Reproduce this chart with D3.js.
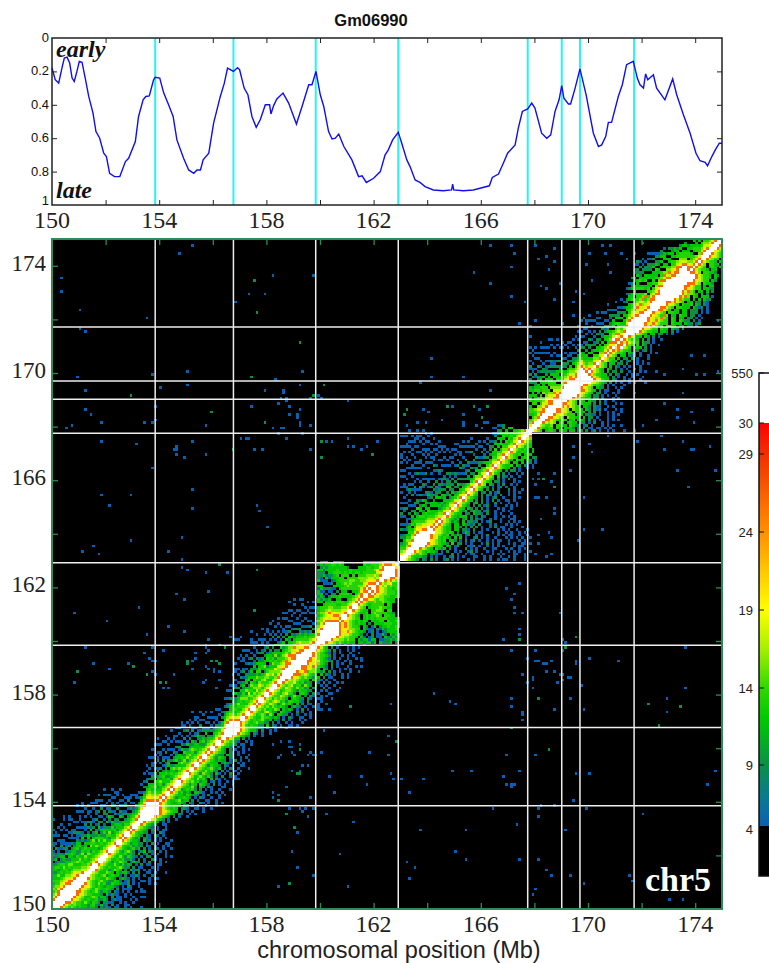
<!DOCTYPE html>
<html><head><meta charset="utf-8">
<script src="https://cdn.jsdelivr.net/npm/d3@7/dist/d3.min.js"></script>
<style>html,body{margin:0;padding:0;background:#fff;overflow:hidden}svg{display:block}</style>
</head><body><svg id="c" width="769" height="963"></svg>
<script>
const chartTitle="Gm06990", regionLabel="chr5", xAxisLabel="chromosomal position (Mb)";
const boundaries=[153.85,156.77,159.84,162.92,167.75,169.02,169.7,171.72];
const positionTicks=[150,154,158,162,166,170,174];
const minorTicks=d3.range(150,176,2);
const timingTicks=[0,0.2,0.4,0.6,0.8,1];
const timingTickLabels=["0","0.2","0.4","0.6","0.8","1"];
const colorbarTicks=[550,30,29,24,19,14,9,4];
const timingMb=[150,150.12,150.25,150.37,150.46,150.56,150.66,150.75,150.83,150.93,151.02,151.12,151.24,151.37,151.53,151.64,151.78,151.93,152.03,152.15,152.33,152.53,152.74,152.86,153.11,153.23,153.4,153.5,153.63,153.79,153.85,154.02,154.17,154.35,154.52,154.66,154.91,155.1,155.29,155.41,155.54,155.64,155.85,156.03,156.28,156.43,156.55,156.77,156.92,157,157.17,157.31,157.46,157.62,157.77,157.96,158.12,158.17,158.27,158.39,158.62,158.83,159.12,159.33,159.58,159.7,159.85,160.01,160.14,160.32,160.45,160.57,160.7,160.89,161.19,161.44,161.57,161.73,162,162.25,162.43,162.55,162.71,162.92,163.05,163.24,163.36,163.55,163.73,163.92,164.23,164.6,164.91,164.95,164.99,165.35,165.72,165.97,166.32,166.43,166.66,166.84,167,167.28,167.4,167.55,167.75,167.9,168.02,168.27,168.46,168.61,168.77,168.92,169.02,169.1,169.27,169.35,169.52,169.7,169.93,170.2,170.39,170.51,170.66,170.76,170.88,171.13,171.28,171.44,171.69,171.84,171.94,172.07,172.15,172.23,172.44,172.56,172.87,173.16,173.31,173.56,173.81,174.03,174.18,174.37,174.46,174.62,174.75,174.9,175];
const timingValue=[.18,.25,.27,.18,.12,.115,.15,.24,.26,.2,.14,.145,.24,.35,.45,.56,.6,.69,.71,.81,.83,.83,.74,.72,.62,.47,.37,.35,.347,.25,.235,.24,.33,.4,.47,.61,.72,.79,.81,.79,.79,.73,.69,.51,.35,.27,.18,.2,.178,.19,.3,.34,.47,.535,.49,.4,.4,.455,.405,.365,.33,.39,.515,.41,.28,.28,.2,.34,.41,.56,.605,.6,.575,.65,.73,.83,.825,.865,.84,.8,.7,.67,.61,.565,.63,.73,.77,.85,.865,.89,.91,.915,.91,.875,.91,.915,.91,.9,.885,.835,.815,.75,.69,.64,.54,.44,.425,.39,.42,.57,.6,.58,.44,.37,.285,.36,.395,.395,.3,.185,.34,.57,.65,.64,.59,.505,.505,.35,.28,.16,.14,.24,.28,.3,.215,.25,.22,.3,.37,.245,.34,.46,.57,.69,.735,.745,.765,.71,.67,.63,.63];
/* contact count for each character code of the rows below */
const contactLevels=[0,5,9,12,13.5,15.5,17.5,20,26,100];
/* each row: bin i (0.1 Mb), characters = bins i, i+1, i+2 ... (matrix is mirrored) */
const contactRows=[
"99986545434332332.2121.11..1.1...1","99987545443323421311.2.1..11","9998865443532432.2211..1.1..1","999987654343342232.1211...1.1","99998765334542331.2.11.1..1..11","99998765443332.31211..1.1","9998865434532332.21.1.1..1.11","9998765435433432.2.1111...1","99987754343233321.1.21..1","99986543534224332112.1.1...1.1",
"9996543453322431.12.1..11.1","9986544335432.2321.1.1...1.11","99654345234331.2.1121.1..1","9965433543.32331.2.2..11.1...1","998543423543.2.3122.1.1..1","99754343345322.2.11...1.1","98754335324232.1.2.11..11","99654243543.1322.1.2...1.1","9965334342231.2.1..21.1","9975435324321.1.22.1...1.1",
"98654334232.3.12.1.1..1","9975324532.123.21..1.1","99654323423.2.1.21.1..1","98643342322.21.1..1.1","9965423322.1.2.1..11","98754332.312.1.1...1","9865323.221.1.1.1","9975432.21.21.1","98643322.1..21..","9865432.2.1.11",
"99654321.1..1","99864322..11","99875432.1.1","999975432.1..1","9999875432.2.1..1","99999865432.21..1.1","99998765433.2.1.1...1","9998654343.221..11.1..1","9986543433.22.1.1..1...1","98754323432.21..21.1..1.1",
"98643345233.2.1..11..1","98754233432.1.21..1..1","9965433243221.1.2...1.1","987534232.3321..1.1.1","9865234342.2.1.1..1...1","997543352.32.21...11","99654243.4321.2.1.1..1","98754534233.12.1..1.1","9965435342.3.21.1...11","99753453242.1.2..1.1",
"9865425432.31.1.2..1","99654353422.2.1..1.1","98754345323.1.21.1...1","9965424332.21.1..11","98754333.2321..1.1","9865432322.1.2.1..1","997532432.21..1.1","9865322.321.1...1","9875432.21.1.1","996532.2.1..1.1",
"98643321.1.1","99754322.11..1","98654321..1.1","9986533.2.1","9998654322.1..1","999986543.21.1..1","99998654332.2..1.1","999875433221.1..1...1","99864343322.3.21.1..11.1","987543453322.2.1..1.1...1",
"996534345323.21.2.1...1.1","98654335443232.1.21..11..1","99753454253.3322.1.1..1.1","98654356432.4321..2.1..1","99654534354.3232.1.2.1...11","9875453543432.2321.1..1.1","98654654235342.3.2.11..1..1","99754565342443321.2..1.1","9865354543.34322.21.1.1...1","99654465423533.2.21..1.1",
"98754356442.3431.2.1...11","9965345543243322.1.1.1..","99754654353423.21..2.1...1","98654563442532.3.1.1..1","9986556434232.21.2.1..1.1","99865654433.4321.1..1","99987654543243.2.11...1.1","999888565432.3.21.1..1.1","99986784553323.2.1.1...1..1","99998876543.32.1..1.1.1",
"9998876854321.2.1...1..1.1","999987685432.2.1.1..1","9998875643322.1..1.1...1","99987654321.1.1..1..1.1","9998654432.1..1.1.1","998754321.1.1...1..1","99865432.2.1..1.1","998643.2.1...1.1.1","99875432.1.1..1...1","99987654543433.3323313.32223.2",
"9999876554544.3233133.11223232","9999987655443.31.12.11.321323","99999876654432.1.2.1131.3233","99998678654332.12.1.123333","99987765544.3211.21323334","9987875443.32.13.23343343","98786543433.2.3333444333","98765434343.33344.43343","9976544.34343444433332","986543.3434454.4433",
"99754334.454444332","9865433.44554.44","99754.344454433","98654344444.43","98654454454433","9887654554333","99887655443343","9898765544433","989876544433","99876544343",
"9875645443","986567443","99878654","9998875","999986","99987","9986","976","98","9",
"9975432.21.2.1..12.1.1...1.1...1.1..1.11..1...1","996433322.1.1..1.12.1.1...11..1.1...1..1.1...1","99754543.22111...2.1..1.11..1...1.1.1...11..1..","99875434332.1.2..1.1..12.1...1.1..1..1.1.1...1","99986543.4323.2.1...2.1.1..1..11...1.1..1.1","99998654343.32.12...112.1..1.1.1.1...1.11.","999987654332.4.22.1.1...1.2.1.1...1.1..11.1..1","9999765434.332.1.2.12.1..1.1.11..1...1.1","99987643432.3.3.1..12.1.1..1...1.1.1.1..1","998765434.3232.12..1.1.2...1.1.11..1..1",
"9997654343.2.132.1.11...1.1..1.1..1.1","98765433.33.221.2..1.1...1.1.1..1...1","9875433.332.2.2.2.1..1.2.11..1...1","986543.33.32212.2...1.1...1.1.1.","98654232.3.2212.1.12...1..1.1.1","9754323.23.2.212..1.1.1...11","986432333.2.1.21...1..1.1.1","975433.22.3221.2..1.1...1","9865323.2322.12..1..1.1","97543.32.2.2.1...1.1..1",
"986432.2.2.12..1...1.1.1.","97543.23.2.1..2.1..1..1","98643.2.2.1.2.1..11.1","975432.2.1.12..1...1.1","98643.2.21.1.2..1.1","9754.22.2.12...1.1.1","98643.2.2.1...2.1..1","975432.1.12.1..1","9865.32.1.2..1.1","97543.22.1...1.1",
"98643.2.1.2.1","9754.3.21.1..1","98643.2.1..1.1","97543.2.22.1","9865433.2.1..1.1","9754334.32.21.1","98654.33.3.22.1","97543.433.32.1","986543.343.22","975434.343",
"98643433.3","9754343.3","9865343","976543","98754","9975","998","99","99754.3443.433.33.22.2.12.1..1.1...1...1","99854344.43.3332.2.2.11.1..1.1",
"9965445.4433.4322.12.1...1.1.1","9986565.44.3433.22.1.2..1.1","9988654454.34.332.2.1.1..1.1.1","99887654.54433.3.22.1...1.1","99986765444.33.2211.1..1.1","999887654.4433.2.2.1..1.1..1","9988765.5443.32.212.1...1.1","9998786544.332.211..1.1","99887654.4333.2.2.1...1.1","9998654.43.322.2.1..1",
"99998654433.22.1...1.1","9999986543.22.1.1..1","9999976543.22.1..1.1","9999886543.2.11...1","99987654.322.1..1.1","99988654432.1.1...1","99999765432.2.1.1..1.1","99999876433.21..1.1...1","9998654332.2.1.1..1...1","98754433.2.21..1.1.1",
"986543.3.22.2..1...1.1","97543.32.2.1.1..1.1","98654.3.21.1.1...1","9754.33.22.2...1.1.1","9865433.2.12..1.1","97544.3.22.2.1...1","98654.33.212.1..1","9875443.322.1...1.1","98785443.22.12.1","9789654.433.2.1",
"9889854.4.32.1..1","98786544.322.1","9875443.3.2.1..1","9986433.32.2.1","99986543.33.22.1.1","99998654433.332.2.1","9999876544.433.322.2","99998786544.4433.22.11.1","999876865444.4333.322.12","99987686544.43.4322.2.1",
"9987656854.43.33.22.1.1","998765485.33.433.22.1","9987754.4433.33.222.1.1","99988654.33.33.222.1.1","99988654.44333.32.2.1","999987654.4334.32.21","9998878654.33.22.21","99999868544.3.3.322","9999998685.43.333.1","999999865543.3.2",
"9999986854.33.3.2","99999876544.3322","9999887544.3.33","999988865.4332","99999876544.32","99999865443.3","9999865443.32","98875.44332","9865443.33","98654.343.3",
"9865.4433.3","9865443.3","9986544","9987654","998654","99765","9986","998","99","9"];
/* isolated low-count contacts, [x bin, y bin] */
const sparseBlue=[[142,80],[148,77],[150,76],[171,78],[171,75],[175,73],[175,72],[175,70],[187,74],[193,78],[198,74],[229,78],[229,73],[126,76],[103,74],[99,78],[106,81],[125,64],[101,66],[118,58],[125,57],[100,58],[169,57],[180,57],[149,51],[156,51],[174,51],[103,49],[115,49],[126,50],[127,48],[130,48],[138,48],[117,46],[168,49],[169,46],[171,46],[172,46],[171,45],[195,50],[200,50],[247,51],[244,46],[105,43],[133,43],[194,40],[164,37],[181,37],[182,38],[187,38],[199,37],[181,34],[220,35],[102,35],[112,32],[173,31],[137,29],[154,29],[191,29],[107,20],[150,21],[154,18],[174,18],[181,18],[132,17],[135,15],[184,14],[186,12],[193,12],[215,12],[216,10],[133,11],[97,12],[198,9],[110,8],[180,7],[179,5],[230,3],[235,3],[223,10],[89,21],[91,15],[84,8],[87,45],[84,42],[82,43],[82,41],[96,41],[95,34],[91,28],[88,37],[92,37],[93,36],[94,37],[97,37],[82,61],[85,62],[88,62],[92,61],[88,60],[89,60],[89,58],[90,57],[85,57],[84,56],[95,57],[96,58],[97,57],[98,57],[89,51],[92,51],[93,53],[95,53],
[179,160],[181,162],[181,160],[187,162],[186,159],[193,163],[180,158],[180,153],[181,153],[184,153],[187,149],[187,147],[182,145],[198,153],[233,163],[247,163],[237,157],[198,141],[205,141],[196,137],[181,139],[185,140],[186,138],[180,132],[184,131],[186,132],[174,121],[169,119],[172,117],[171,115],[172,112],[172,110],[175,110],[189,110],[174,104],[174,102],[168,100],[190,100],[191,99],[190,96],[171,96],[180,96],[236,97],[177,93],[180,92],[181,92],[183,91],[184,91],[186,92],[195,92],[195,91],[200,93],[211,92],[184,88],[187,88],[189,87],[190,87],[175,87],[179,86],[179,85],[192,86],[193,86],[190,85],[188,84],[177,84],[197,83],[179,82],[236,82],
[52,247],[47,244],[3,235],[3,230],[10,223],[35,220],[10,216],[12,215],[82,236],[97,236],[73,229],[79,229],[68,226],[157,237],[163,247],[163,233],[141,205],[141,198],[153,198],[137,196],[163,193],[9,198],[37,199],[50,200],[50,195],[40,194],[12,193],[83,197],[93,200],[92,195],[79,193],[86,193],[86,192],[85,190],[87,190],[96,190],[99,191],[100,190],[84,188],[87,189],[74,187],[88,187],[92,186],[12,186],[14,184],[38,187],[88,184],[91,184],[91,183],[110,189],[38,182],[37,181],[34,181],[18,181],[7,180],[5,179],[57,180],[82,179],[85,179],[86,179],[92,181],[92,180],[96,180],[84,177],[93,177],[98,177],[18,174],[31,173],[52,174],[70,175],[72,175],[73,175],[87,175],[102,174],[104,174],[110,175],[110,172],[112,172],[115,171],[117,172],[121,174],[96,171],[75,171],[78,171],[46,172],[46,171],[45,171],[46,169],[49,168],[57,169],[37,164],[138,186],[140,185],[149,187],[159,186],[153,184],[139,181],[145,182],[153,181],[153,180],[161,181],[162,181],[132,180],[158,180],[160,179],
[18,154],[29,154],[21,150],[52,156],[52,149],[76,150],[77,148],[80,142],[29,137],[48,138],[15,135],[11,133],[17,132],[43,133],[48,130],[48,127],[50,126],[57,125],[65,125],[58,118],[46,117],[49,115],[8,110],[32,112],[20,107],[81,106],[43,105],[49,103],[35,102],[74,103],[70,101],[66,101],[68,100],[69,100],[58,100],[78,99],[12,97],[37,97],[41,96],[34,95],[57,98],[57,97],[57,95],[58,96],[53,95],[36,93],[37,92],[38,92],[15,91],[28,91],[52,92],[53,93],[57,90],[58,89],[52,89],[60,89],[60,88],[62,88],[21,89],[37,88],[38,87],[45,87],[8,84],[41,82],[43,82],[57,85],[56,84],[61,82],[62,85],
[171,247],[172,244],[171,239],[176,226],[171,228],[174,218],[180,247],[187,246],[184,243],[181,242],[187,241],[185,238],[184,231],[182,232],[189,233],[187,227],[195,230],[198,229],[200,244],[206,244],[201,234],[199,240],[208,237],[207,240],[194,226],[194,221],[180,219],[190,218],[199,219],[201,219],[205,247],[208,247],[212,244],[214,242],[220,248],[217,244],[238,171],[239,171],[245,172],[235,174],[228,171],[227,176],[218,174],[235,192],[233,186],[238,185],[246,186],[239,181],[225,182],[233,183],[228,188],[220,180],[243,199],[248,200],[240,199],[235,201],[228,199],[225,200],[243,206],[238,206],[248,219],[241,224],[243,225],[221,196],[217,192],[207,183],[211,184],[204,179],[200,173],[201,170],[194,172],[194,168],[207,176],[212,180]];
const sparseTeal=[[181,78],[222,76],[234,75],[226,68],[171,67],[111,75],[128,62],[185,59],[88,9],[84,40],[87,35],[90,30],[92,59],[91,50],[92,50],[183,160],[187,157],[174,100],[195,101],[191,97],[75,234],[76,222],[92,211],[29,191],[74,198],[101,195],[97,191],[59,185],[79,181],[100,174],[119,169],[100,168],[67,171],[132,186],[147,187],[157,187],[162,187],[131,184],[160,183],[62,128],[76,126],[75,111],[64,97],[62,98],[30,90],[50,92],[50,91],[59,92],[61,92],[62,91],[9,88],[35,87],[40,84],[42,84]];
/* colour bar: value -> colour */
const colorValues=[30,29,24,19,16.5,14,12,9,6.5,5];
const colorStops=["#ff0000","#f03000","#ff9000","#ffff00","#a4f000","#30d800","#00c800","#0a9048","#0a7a90","#0a60b0"];
const barTickPositionValues=[4,9,14,19,24,29,30,550];

const svg=d3.select("#c");
const sans='"Liberation Sans",Arial,sans-serif', serif='"Liberation Serif","Times New Roman",serif';
const x=d3.scaleLinear([150,175],[52,722]);
const yHeat=d3.scaleLinear([150,175],[909,239]);
const yTiming=d3.scaleLinear([0,1],[38,205]);
const barY=d3.scaleLinear(barTickPositionValues,[829,765,688,610,532,454,423,373]);
const colorOf=d3.scaleLinear(colorValues,colorStops).clamp(true);
const cellColor=v=>v<=4?"#000":(v>30?"#fff":colorOf(v));
const binMb=b=>150+b*0.1;

/* ---- timing panel ---- */
const timingPanel=svg.append("g");
timingPanel.append("rect").attr("x",52).attr("y",38).attr("width",670).attr("height",167).attr("fill","#fff");
timingPanel.selectAll(".bl").data(boundaries).join("line").attr("x1",d=>x(d)).attr("x2",d=>x(d)).attr("y1",38).attr("y2",205)
  .attr("stroke","#24f4f4").attr("stroke-width",2);
timingPanel.append("path").attr("d",d3.line().x(d=>x(d[0])).y(d=>yTiming(d[1]))(timingMb.map((m,i)=>[m,timingValue[i]])))
  .attr("fill","none").attr("stroke","#1010e8").attr("stroke-width",1.4);
function ticks(parent,yScale,xVals,yVals,col,len,w){
  const [yb,yt]=[yScale.range()[0],yScale.range()[1]];
  const bottom=Math.max(yb,yt),topY=Math.min(yb,yt);
  const mk=(axis,tr)=>{const g=parent.append("g").attr("transform",tr).call(axis);g.select(".domain").remove();g.selectAll("line").attr("stroke",col).attr("stroke-width",w);g.selectAll("text").remove();};
  mk(d3.axisBottom(x).tickValues(xVals).tickSize(-len),`translate(0,${bottom})`);
  mk(d3.axisTop(x).tickValues(xVals).tickSize(-len),`translate(0,${topY})`);
  mk(d3.axisLeft(yScale).tickValues(yVals).tickSize(-len),`translate(52,0)`);
  mk(d3.axisRight(yScale).tickValues(yVals).tickSize(-len),`translate(722,0)`);
}
ticks(timingPanel,yTiming,minorTicks.filter(d=>d>150&&d<175),timingTicks.slice(1,-1),"#222",5,1);
timingPanel.append("rect").attr("x",52).attr("y",38).attr("width",670).attr("height",167).attr("fill","none").attr("stroke","#222").attr("stroke-width",1.5);
timingPanel.selectAll(".tl").data(timingTicks).join("text").attr("x",49).attr("y",(d,i)=>yTiming(d)+(i==5?0:4)).attr("text-anchor","end")
  .attr("font-family",sans).attr("font-size",13).attr("fill","#111").text((d,i)=>timingTickLabels[i]);
svg.append("text").attr("x",371).attr("y",26).attr("text-anchor","middle").attr("font-family",sans).attr("font-weight","bold").attr("font-size",16.5).attr("fill","#111").text(chartTitle);
const tf=(t,xp,yp)=>svg.append("text").attr("x",xp).attr("y",yp).attr("font-family",serif).attr("font-weight","bold").attr("font-style","italic").attr("font-size",24).attr("fill","#111").text(t);
tf("early",56,57);tf("late",56,198);
svg.selectAll(".xt").data(positionTicks).join("text").attr("x",d=>x(d)).attr("y",228).attr("text-anchor","middle").attr("font-family",serif).attr("font-size",24).attr("fill","#222").text(d=>d);

/* ---- contact map ---- */
const blur=svg.append("defs").append("filter").attr("id","soft").attr("filterUnits","userSpaceOnUse").attr("x",52).attr("y",239).attr("width",670).attr("height",670).attr("color-interpolation-filters","sRGB");
blur.append("feGaussianBlur").attr("stdDeviation",0.6);
const heat=svg.append("g");
heat.append("rect").attr("x",x(150)).attr("y",yHeat(175)).attr("width",x(175)-x(150)).attr("height",yHeat(150)-yHeat(175)).attr("fill","#000");
const cells=[];
contactRows.forEach((row,i)=>{for(let k=0;k<row.length;k++){const c=row[k];if(c==="."||i+k>=250)continue;
  const v=contactLevels[+c];cells.push([i+k,i,v]);if(k>0)cells.push([i,i+k,v]);}});
sparseBlue.forEach(p=>cells.push([p[0],p[1],contactLevels[1]]));
sparseTeal.forEach(p=>cells.push([p[0],p[1],contactLevels[2]]));
cells.sort((a,b)=>a[2]-b[2]);
const cw=x(binMb(1))-x(150), ch=yHeat(150)-yHeat(binMb(1));
const cellLayer=heat.append("g").attr("filter","url(#soft)");
cellLayer.append("rect").attr("x",52).attr("y",239).attr("width",670).attr("height",670).attr("fill","#000");
cellLayer.selectAll(".cell").data(cells).join("rect").attr("x",d=>x(binMb(d[0]))).attr("y",d=>yHeat(binMb(d[1]+1)))
  .attr("width",cw).attr("height",ch).attr("fill",d=>cellColor(d[2])).attr("shape-rendering","crispEdges");
heat.selectAll(".v").data(boundaries).join("line").attr("x1",d=>x(d)).attr("x2",d=>x(d)).attr("y1",239).attr("y2",909).attr("stroke","#eee").attr("stroke-width",1.5);
heat.selectAll(".h").data(boundaries).join("line").attr("y1",d=>yHeat(d)).attr("y2",d=>yHeat(d)).attr("x1",52).attr("x2",722).attr("stroke","#eee").attr("stroke-width",1.5);
ticks(heat,yHeat,minorTicks.filter(d=>d>150&&d<175),minorTicks.filter(d=>d>150&&d<175),"#2e8b57",6,1.3);
heat.append("rect").attr("x",52).attr("y",239).attr("width",670).attr("height",670).attr("fill","none").attr("stroke","#2e8b57").attr("stroke-width",2);
svg.append("text").attr("x",645).attr("y",891).attr("font-family",serif).attr("font-weight","bold").attr("font-size",34).attr("fill","#fff").text(regionLabel);
svg.selectAll(".xb").data(positionTicks).join("text").attr("x",d=>x(d)).attr("y",932).attr("text-anchor","middle").attr("font-family",serif).attr("font-size",24).attr("fill","#222").text(d=>d);
svg.selectAll(".yb").data(positionTicks).join("text").attr("x",46).attr("y",d=>yHeat(d)+(d==150?2:5)).attr("text-anchor","end").attr("font-family",serif).attr("font-size",23).attr("fill","#222").text(d=>d);
svg.append("text").attr("x",399).attr("y",958).attr("text-anchor","middle").attr("font-family",sans).attr("font-size",23.5).attr("fill","#222").text(xAxisLabel);

/* ---- colour bar ---- */
const defs=svg.append("defs");
const grad=defs.append("linearGradient").attr("id","cb").attr("x1",0).attr("x2",0).attr("y1",0).attr("y2",1);
const gTop=barY(30),gBot=826;
colorValues.forEach((v,i)=>{const py=v==5?gBot:barY(v);grad.append("stop").attr("offset",(py-gTop)/(gBot-gTop)).attr("stop-color",colorStops[i]);});
const barX=759,barW=20;
svg.append("rect").attr("x",barX).attr("y",gTop).attr("width",barW).attr("height",gBot-gTop).attr("fill","url(#cb)");
svg.append("rect").attr("x",barX).attr("y",gBot).attr("width",barW).attr("height",876-gBot).attr("fill","#000");
svg.append("rect").attr("x",barX).attr("y",373).attr("width",barW).attr("height",503).attr("fill","none").attr("stroke","#111").attr("stroke-width",1.5);
svg.selectAll(".bt").data(colorbarTicks).join("line").attr("x1",barX).attr("x2",barX+5).attr("y1",d=>barY(d)).attr("y2",d=>barY(d)).attr("stroke","#111").attr("stroke-width",1);
svg.selectAll(".bl2").data(colorbarTicks).join("text").attr("x",753).attr("y",d=>barY(d)+5).attr("text-anchor","end").attr("font-family",sans).attr("font-size",13).attr("fill","#222").text(d=>d);
</script></body></html>
